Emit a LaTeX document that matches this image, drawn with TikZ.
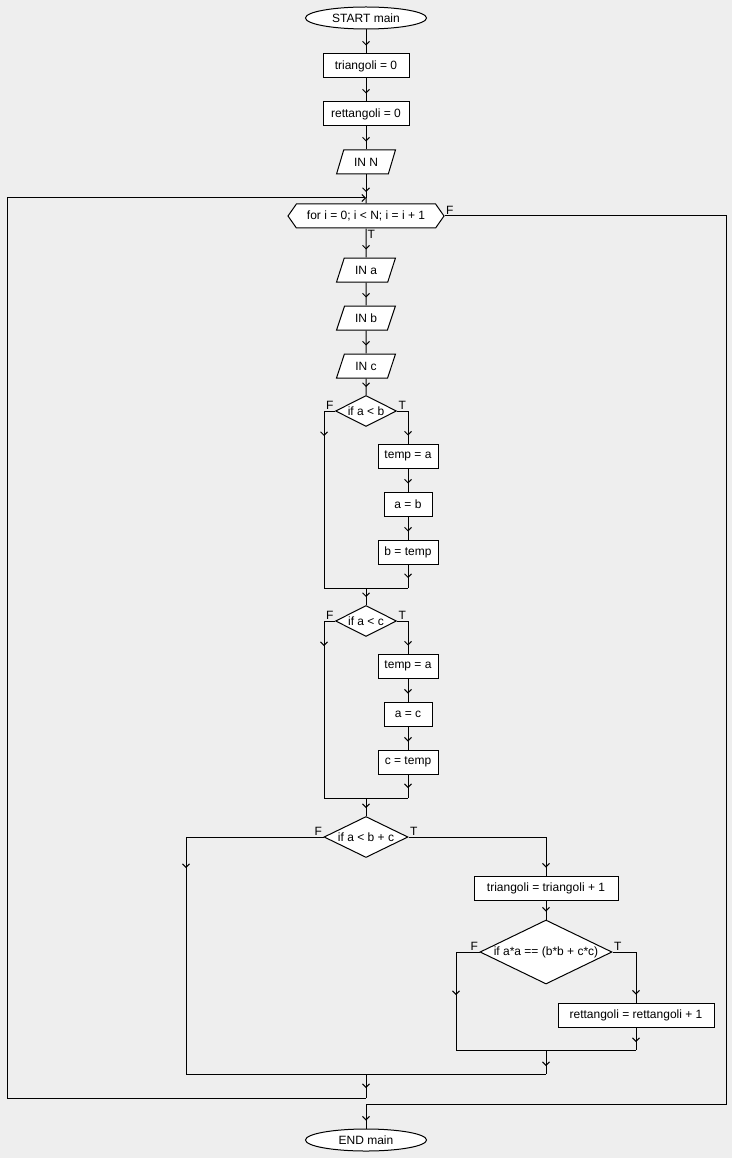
\documentclass[tikz,border=0pt]{standalone}
\usepackage{fontspec}
\setmainfont{Liberation Sans}
\usetikzlibrary{arrows.meta,shapes.geometric,shapes.symbols,decorations.markings}
\definecolor{flowbg}{HTML}{EEEEEE}
\newcommand{\dtext}[1]{\makebox[0pt]{#1}}

\begin{document}
\begin{tikzpicture}[x=1pt,y=-1pt,line width=1pt,font=\fontsize{12}{14}\selectfont,
  >={Straight Barb[length=3.5pt,width=7pt]},
  flow/.style={postaction={decorate},decoration={markings,mark=at position -#1 with {\arrow{>}}}},
  flow/.default=8pt,
  term/.style={ellipse,draw,fill=white,minimum width=121,minimum height=22,inner sep=0pt},
  proc/.style={rectangle,draw,fill=white,minimum height=24,inner sep=0pt},
  inout/.style={trapezium,trapezium left angle=65,trapezium right angle=115,trapezium stretches=true,draw,fill=white,minimum width=59,minimum height=24,inner sep=0pt},
  loopbox/.style={signal,signal to=west and east,signal pointer angle=110,draw,fill=white,minimum width=156,minimum height=24,inner sep=0pt},
  dec/.style={diamond,draw,fill=white,inner sep=0pt},
  lbl/.style={inner sep=1pt}]
\useasboundingbox (0,0) rectangle (732,1158);
\fill[flowbg] (0,0) rectangle (732,1158);

% main column
\node[term] (start) at (366,18) {START main};
\node[proc,minimum width=86] (p1) at (366,66) {triangoli = 0};
\node[proc,minimum width=86] (p2) at (366,114) {rettangoli = 0};
\node[inout] (inN) at (366,162) {IN N};
\coordinate (join) at (366,198);
\node[loopbox] (loop) at (366,216) {for i = 0; i < N; i = i + 1};
\node[lbl,anchor=south west] (loopF) at (loop.east) {F};
\node[lbl,anchor=north west] (loopT) at (loop.south) {T};
\node[inout] (ina) at (366,270) {IN a};
\node[inout] (inb) at (366,318) {IN b};
\node[inout] (inc) at (366,366) {IN c};

% swap a, b
\node[dec,minimum width=61,minimum height=31] (d1) at (366,411) {\dtext{if a < b}};
\node[lbl,anchor=south east] (d1F) at (d1.west) {F};
\node[lbl,anchor=south west] (d1T) at (d1.east) {T};
\node[proc,minimum width=60] (t1) at (408,456) {temp = a};
\node[proc,minimum width=48] (t2) at (408,504) {a = b};
\node[proc,minimum width=60] (t3) at (408,552) {b = temp};
\coordinate (d1f) at (324,444);
\coordinate (m1) at (366,588);

% swap a, c
\node[dec,minimum width=61,minimum height=31] (d2) at (366,621) {\dtext{if a < c}};
\node[lbl,anchor=south east] (d2F) at (d2.west) {F};
\node[lbl,anchor=south west] (d2T) at (d2.east) {T};
\node[proc,minimum width=60] (t4) at (408,666) {temp = a};
\node[proc,minimum width=48] (t5) at (408,714) {a = c};
\node[proc,minimum width=60] (t6) at (408,762) {c = temp};
\coordinate (d2f) at (324,654);
\coordinate (m2) at (366,798);

% triangle tests
\node[dec,minimum width=84,minimum height=41] (d3) at (366,837) {\dtext{if a < b + c}};
\node[lbl,anchor=south east] (d3F) at (d3.west) {F};
\node[lbl,anchor=south west] (d3T) at (d3.east) {T};
\node[proc,minimum width=144] (p3) at (546,888) {triangoli = triangoli + 1};
\node[dec,minimum width=132,minimum height=64] (d4) at (546,952) {\dtext{if a*a == (b*b + c*c)}};
\node[lbl,anchor=south east] (d4F) at (d4.west) {F};
\node[lbl,anchor=south west] (d4T) at (d4.east) {T};
\node[proc,minimum width=156] (p4) at (636,1015) {rettangoli = rettangoli + 1};
\coordinate (d3f) at (186,876);
\coordinate (d4f) at (456,1003);
\coordinate (m4) at (546,1050);
\coordinate (m3) at (366,1074);
\coordinate (lb) at (366,1098);
\coordinate (lbl) at (7,1098);
\coordinate (lex) at (726,216);
\coordinate (le) at (366,1104);
\node[term] (end) at (366,1140) {END main};

% connectors
\draw[flow] (start) -- (p1);
\draw[flow] (p1) -- (p2);
\draw[flow] (p2) -- (inN);
\draw[flow=6pt] (inN) -- (join);
\draw (join) -- (loop);
\draw[flow] (loop) -- (ina);
\draw[flow] (ina) -- (inb);
\draw[flow] (inb) -- (inc);
\draw[flow] (inc) -- (d1);
\draw[flow] (d1.east) -| (t1);
\draw[flow] (t1) -- (t2);
\draw[flow] (t2) -- (t3);
\draw[flow=10pt] (t3) -- (t3 |- m1);
\draw (t3 |- m1) -- (m1);
\draw[flow] (d1.west) -| (d1f);
\draw (d1f) |- (m1);
\draw[flow] (m1) -- (d2);
\draw[flow] (d2.east) -| (t4);
\draw[flow] (t4) -- (t5);
\draw[flow] (t5) -- (t6);
\draw[flow=10pt] (t6) -- (t6 |- m2);
\draw (t6 |- m2) -- (m2);
\draw[flow] (d2.west) -| (d2f);
\draw (d2f) |- (m2);
\draw[flow] (m2) -- (d3);
\draw[flow] (d3.east) -| (p3);
\draw[flow] (d3.west) -| (d3f);
\draw (d3f) |- (m3);
\draw[flow] (p3) -- (d4);
\draw[flow] (d4.east) -| (p4);
\draw[flow] (d4.west) -| (d4f);
\draw (d4f) |- (m4);
\draw[flow] (p4) -- (p4 |- m4);
\draw (p4 |- m4) -- (m4);
\draw[flow] (m4) -- (m4 |- m3);
\draw (m4 |- m3) -- (m3);
\draw[flow=10pt] (m3) -- (lb);
\draw[->] (lb) -- (lbl) |- (join);
\draw (loop.east) -- (lex) |- (le);
\draw[flow] (le) -- (end);
\end{tikzpicture}
\end{document}
